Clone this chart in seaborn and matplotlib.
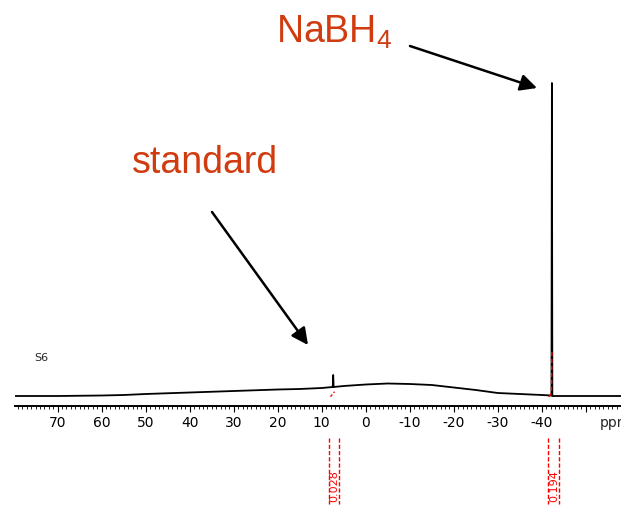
import numpy as np
import pandas as pd
import matplotlib
matplotlib.use('Agg')
import matplotlib.pyplot as plt
from matplotlib.ticker import MultipleLocator, FixedLocator
import seaborn as sns

# 스펙트럼 값 (그림에서 읽은 값, 세기 단위는 임의)
ppm = [79.7, 70, 60, 55, 50, 40, 30, 20, 15, 10, 7.5, 7.4, 7.3, 5, 0, -5, -10,
       -15, -20, -25, -30, -35, -40, -42.2, -42.3, -42.4, -50, -58]
intensity = [0, 0, 0.5, 1, 2, 3.5, 5, 6.5, 7, 8, 9, 21, 9, 10, 11.5, 12.5, 12,
             11, 8.5, 6, 3, 2, 1, 0.5, 313, 0, 0, 0]

# 적분 곡선 (빨간 점선)
integ_std_ppm = [8.0, 7.1]
integ_std_val = [-0.7, 4.3]
integ_nab_ppm = [-41.6, -42.2, -42.3]
integ_nab_val = [-1, 3, 46]

# 적분 범위와 값
integ_edges = [(8.3, 6.0), (-41.5, -44.0)]
integ_labels = ['0.028', '0.194']

major_ticks = list(range(70, -51, -10))
tick_labels = [str(t) for t in range(70, -41, -10)] + ['']

sns.set_style('white')
plt.rcParams['font.family'] = ['DejaVu Sans']
plt.rcParams['mathtext.fontset'] = 'custom'
plt.rcParams['mathtext.rm'] = 'Liberation Sans'
plt.rcParams['mathtext.it'] = 'Liberation Sans:italic'

W, H = 621, 505
fig = plt.figure(figsize=(W / 100, H / 100), dpi=100)
ax = fig.add_axes([15 / W, 99 / H, 606 / W, 406 / H])

df = pd.DataFrame({'ppm': ppm, 'intensity': intensity})
sns.lineplot(data=df, x='ppm', y='intensity', sort=False, estimator=None,
             color='black', lw=1.3, ax=ax)

sns.lineplot(x=integ_std_ppm, y=integ_std_val, sort=False, estimator=None,
             color='red', lw=1, ax=ax).lines[-1].set_dashes([2, 1.5])
sns.lineplot(x=integ_nab_ppm, y=integ_nab_val, sort=False, estimator=None,
             color='red', lw=1, ax=ax).lines[-1].set_dashes([3, 2])

ax.set_xlim(79.7, -58)
ax.set_ylim(-10, 396)

for (a, b), lab in zip(integ_edges, integ_labels):
    for e in (a, b):
        ax.plot([e, e], [-42, -108], color='red', lw=1, ls=(0, (3, 1.5)),
                clip_on=False)
    ax.text((a + b) / 2, -90, lab, rotation=90, color='red', fontsize=8,
            ha='center', va='center', clip_on=False)

for s in ['top', 'left', 'right']:
    ax.spines[s].set_visible(False)
ax.spines['bottom'].set_linewidth(1.4)
ax.spines['bottom'].set_color('black')
ax.set_yticks([])
ax.xaxis.set_major_locator(FixedLocator(major_ticks))
ax.set_xticklabels(tick_labels)
ax.xaxis.set_minor_locator(MultipleLocator(1))
ax.tick_params(axis='x', which='major', direction='out', length=4.5, width=0.8,
               pad=3, labelsize=10, colors='black', bottom=True)
ax.tick_params(axis='x', which='minor', direction='out', length=2.2, width=0.6,
               colors='black', bottom=True)
ax.set_xlabel('')
ax.set_ylabel('')

def fx(x):
    return x / W

def fy(y):
    return 1 - y / H

# 참고 그림처럼 오른쪽 끝에서 잘린 축 단위
fig.text(fx(600), fy(423), 'ppm', fontsize=10, va='center', ha='left')
fig.text(fx(34), fy(358), 'S6', fontsize=8, va='center', ha='left')

red = '#d03b10'
fig.text(fx(276), fy(43), 'NaBH$_4$', fontsize=27, color=red,
         family='Liberation Sans', va='baseline', ha='left')
fig.text(fx(132), fy(173), 'standard', fontsize=27, color=red,
         family='Liberation Sans', va='baseline', ha='left')

arrow = dict(arrowstyle='-|>', lw=1.8, color='black', mutation_scale=25,
             shrinkA=0, shrinkB=0)
ax.annotate('', xy=(fx(537), fy(88)), xytext=(fx(410), fy(46)),
            xycoords='figure fraction', textcoords='figure fraction',
            arrowprops=arrow)
ax.annotate('', xy=(fx(308), fy(345)), xytext=(fx(212), fy(212)),
            xycoords='figure fraction', textcoords='figure fraction',
            arrowprops=arrow)

fig.savefig('out.png', dpi=100)
